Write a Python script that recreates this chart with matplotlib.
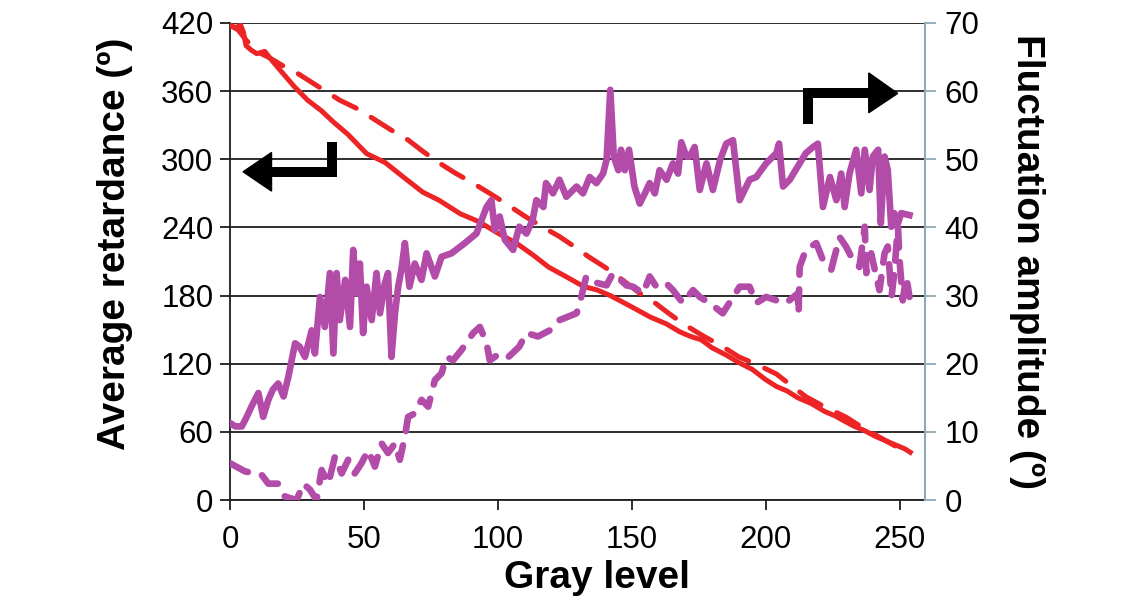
import matplotlib
matplotlib.use("Agg")
import matplotlib.pyplot as plt
from matplotlib.patches import Polygon

plt.rcParams['font.family'] = ['Liberation Sans', 'DejaVu Sans']

# ---- data ----
red_solid_x = [0, 2, 4, 5, 6, 8, 10, 13, 16, 20, 24, 29, 34, 39, 44, 51, 58, 66, 72, 78, 86, 93,
               100, 107, 113, 119, 126, 132, 137, 142, 150, 157, 163, 168, 172, 176, 180, 185,
               190, 195, 200, 204, 208, 212, 217, 222, 226, 229, 233, 237, 241, 245, 249, 252, 254]
red_solid_y = [418, 416, 418, 412, 400, 396, 393, 395, 386, 375, 364, 352, 343, 332, 322, 305, 297,
               282, 271, 264, 252, 245, 235, 226, 216, 205, 196, 188, 185, 180, 170, 161, 155, 148,
               144, 141, 134, 128, 121, 115, 106, 100, 96, 90, 85, 78, 74, 70, 65, 61, 56, 52, 48, 45, 42]

red_dash_x = [0, 3, 6, 10, 15, 20, 25, 29, 35, 41, 48, 54, 60, 66.5, 72, 78, 84, 90, 97, 103, 110,
              117, 123, 128, 134, 140, 147, 153, 159, 164, 170, 177, 184, 190, 197, 204, 210, 215,
              222, 230, 236, 242, 248, 254]
red_dash_y = [418, 414, 405, 395, 389, 382, 376, 370, 361, 352, 344, 335, 326, 317, 307, 297, 288,
              280, 270, 261, 250, 240, 232, 224, 214, 205, 193, 182, 173, 164, 154, 144, 135, 126,
              119, 111, 100, 91, 82, 73, 64, 56, 48, 42]

mag_solid_x = [0, 2, 4.4, 6, 8, 10.6, 12.4, 14.3, 16, 18, 20, 21.8, 24.3, 26, 28, 30.5, 31.7, 33.6,
               35.4, 37.3, 38.6, 39.8, 41, 43, 44.8, 46, 47.3, 48.5, 49.7, 51, 52.9, 54.7, 56, 57.8,
               59, 60.3, 61.6, 62.8, 64, 65.3, 67, 69, 71.5, 73.4, 76.5, 79, 82.7, 87.7, 92, 95.8,
               97.6, 98.9, 100.7, 102.6, 105.7, 108, 110.7, 113, 114.4, 117, 118, 120.6, 123, 125.6,
               129.4, 131.8, 134.3, 136.8, 139.3, 140.6, 142, 143.3, 145, 146, 147.4, 149, 151, 153,
               154.9, 156.7, 158.6, 160.4, 163, 165.4, 167.3, 168.5, 170.4, 171.6, 173.5, 175.4,
               177.9, 180.3, 183, 185.3, 187.8, 190.3, 194, 196.5, 200.2, 204, 205, 206.5, 209,
               212.7, 215, 217.7, 219.5, 221.4, 224, 226.4, 228.2, 229.5, 231.3, 233.8, 235.7, 237,
               238.8, 240, 242, 243, 244.4, 245.6, 246.9, 248, 249.4, 250.6, 253.7]
mag_solid_y = [11.3, 10.8, 10.8, 12, 13.7, 15.7, 12.2, 14.7, 16.2, 17.1, 15.2, 18.1, 23, 22.5, 21,
               24.9, 21.5, 29.8, 25.4, 33.3, 21.5, 33.3, 26.4, 32.3, 25.4, 36.7, 30.3, 34.7, 24.5,
               31.3, 26.4, 33.3, 27.4, 31.8, 33.3, 21, 27.4, 31.3, 33.8, 37.7, 31.3, 34.7, 32.3, 36.2,
               32.8, 35.7, 36.2, 37.7, 39.1, 43, 44, 39.6, 41.6, 38.2, 36.7, 40.1, 39.1, 41.1, 44, 43,
               46.5, 45, 47, 44.5, 46, 45, 47.4, 46.5, 47.9, 49.9, 60.2, 50.4, 48.4, 51.4, 48.4, 51.4,
               46, 43.5, 45, 46.5, 45, 48.4, 47, 49.4, 47.9, 52.5, 50.4, 50.4, 51.8, 45.5, 49.4, 45.5,
               49.9, 52.3, 52.8, 44, 47, 47.4, 49.4, 50.9, 52.3, 46, 47, 49.4, 50.9, 51.8, 52.3, 43,
               47.4, 44, 47.9, 43, 47.9, 51.4, 45, 51.4, 45.5, 50.4, 51.4, 40.6, 50.4, 48.4, 40.1,
               42.1, 40.6, 42.1, 41.8]

mag_dash_x = [0, 5.6, 11.8, 14.3, 18, 20.5, 24.9, 27.4, 29.9, 32.3, 34.2, 36.7, 39.2, 41.7, 44.1,
              46.6, 49.1, 51.6, 54.1, 56.6, 59, 61.6, 63.4, 65.3, 66.5, 69, 71.5, 74, 76.5, 79, 80.8,
              83.3, 86.4, 90.8, 93.3, 95.8, 97, 100.7, 104, 108, 110.7, 115, 119.4, 123, 129.4,
              130.6, 133, 135.6, 140.6, 143, 148, 150.5, 154.2, 156.7, 159.2, 162.9, 165.4, 169.1,
              172.9, 175.4, 179.1, 184, 190.3, 194, 196.5, 200.2, 204, 207.6, 212, 212.3, 212.7,
              215, 218.9, 221.4, 224.5, 227.6, 230, 232.6, 235, 237, 237.6, 239.4, 241.3, 242.5,
              244.4, 245.6, 247, 248, 249.4, 250, 251.2, 252.5, 253.7]
mag_dash_y = [5.4, 4.2, 3.7, 2.4, 2.4, 0.5, 0, 2.4, 1.5, 0, 4.4, 2.4, 6.4, 3.9, 5.9, 3.9, 5.4, 7.3,
              4.9, 8.3, 6.9, 8.3, 5.9, 9.3, 12.2, 12.7, 14.7, 13.7, 17.6, 18.6, 21, 20.5, 22, 24.5,
              25.4, 23, 20.5, 21.5, 21, 22.5, 24.5, 24, 24.9, 26.4, 27.4, 28.9, 32.8, 32, 31.5, 33.3,
              31.5, 31.3, 30.3, 32.8, 31.3, 31.8, 30.8, 28.9, 30.8, 29.8, 28.9, 27.4, 31.3, 31.3,
              28.9, 29.8, 29.3, 28.9, 30.3, 27.4, 34.2, 36.7, 37.7, 35.2, 33.8, 38.6, 37.2, 35.2,
              34.2, 40.1, 33.3, 36.2, 32.8, 30.8, 36.2, 37.2, 29.8, 33.3, 40.1, 35.2, 29.3, 32.8, 29.8]

x_ticks = [0, 50, 100, 150, 200, 250]
left_ticks = [0, 60, 120, 180, 240, 300, 360, 420]
right_ticks = [0, 10, 20, 30, 40, 50, 60, 70]

RED = '#EC2426'
MAG = '#B24CA8'

fig = plt.figure(figsize=(11.4, 6.04), dpi=100)
ax = fig.add_axes([230/1140, 104/604, 695/1140, 477/604])
ax2 = ax.twinx()

# grid lines
for t in left_ticks:
    ax.axhline(t, color='#1e1e1e', lw=1.3, zorder=1)

ax.plot(red_dash_x, red_dash_y, color=RED, lw=3.6, dashes=(5, 3.5), zorder=3,
        dash_capstyle='round')
ax.plot(red_solid_x, red_solid_y, color=RED, lw=3.6, zorder=3, solid_joinstyle='round')

ax2.plot(mag_solid_x, mag_solid_y, color=MAG, lw=4.8, zorder=3, solid_joinstyle='round')
ax2.plot(mag_dash_x, mag_dash_y, color=MAG, lw=4.8, dashes=(3, 2.2), zorder=3,
         dash_capstyle='round')

ax.set_xlim(0, 259.5)
ax.set_ylim(0, 420)
ax2.set_ylim(0, 70)
ax.set_xticks(x_ticks)
ax.set_yticks(left_ticks)
ax2.set_yticks(right_ticks)

for s in ['top']:
    ax.spines[s].set_visible(False)
    ax2.spines[s].set_visible(False)
ax.spines['right'].set_visible(False)
ax2.spines['left'].set_visible(False)
ax2.spines['bottom'].set_visible(False)
ax.spines['left'].set_color('#1e1e1e')
ax.spines['left'].set_linewidth(1.3)
ax.spines['bottom'].set_color('#1e1e1e')
ax.spines['bottom'].set_linewidth(1.3)
ax2.spines['right'].set_color('#8fa9b8')
ax2.spines['right'].set_linewidth(1.5)

ax.tick_params(axis='y', direction='out', length=7, width=1.3, color='#1e1e1e',
               labelsize=22.5, pad=5)
ax.tick_params(axis='x', direction='out', length=7, width=1.3, color='#1e1e1e',
               labelsize=22.5, pad=11)
ax2.tick_params(axis='y', direction='out', length=8, width=1.3, color='#8fa9b8',
                labelsize=22.5, pad=6)
for lab in ax.get_xticklabels() + ax.get_yticklabels() + ax2.get_yticklabels():
    lab.set_color('#000000')

# bent arrows (annotations)
kw = dict(color='black', lw=7.2, solid_capstyle='butt', solid_joinstyle='miter', zorder=4,
          clip_on=False)
ax.plot([38.2, 38.2, 15.5], [315, 289, 289], **kw)
ax.add_patch(Polygon([[4.9, 289], [15.5, 306], [15.5, 272]], closed=True,
                     color='black', zorder=4, clip_on=False))
ax.plot([215.7, 215.7, 238.5], [331, 358, 358], **kw)
ax.add_patch(Polygon([[249.3, 358], [238.5, 376], [238.5, 341]], closed=True,
                     color='black', zorder=4, clip_on=False))

fig.text(115/1140, 1 - 244/604, 'Average retardance (º)', rotation=90, ha='center',
         va='center', fontsize=28, fontweight='bold', color='#000000')
fig.text(1027/1140, 1 - 262/604, 'Fluctuation amplitude (º)', rotation=270, ha='center',
         va='center', fontsize=28, fontweight='bold', color='#000000')
fig.text(597/1140, 1 - 578/604, 'Gray level', ha='center', va='center', fontsize=28,
         fontweight='bold', color='#000000')

fig.savefig('out.png', dpi=100, facecolor='white')
